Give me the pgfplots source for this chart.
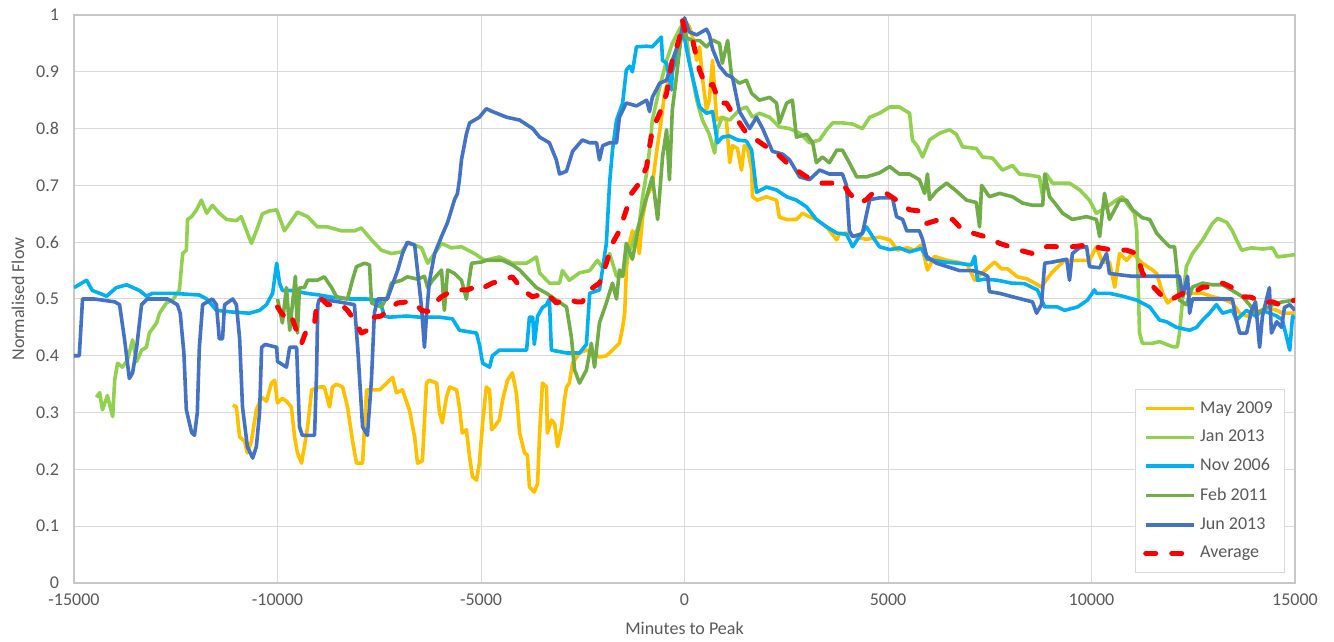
\documentclass[border=0pt]{standalone}
\usepackage{fontspec}
\setmainfont{Carlito}
\usepackage{pgfplots}
\pgfplotsset{compat=1.18}

\definecolor{cMay}{HTML}{FFC000}
\definecolor{cJan}{HTML}{92D050}
\definecolor{cNov}{HTML}{00B0F0}
\definecolor{cFeb}{HTML}{70AD47}
\definecolor{cJun}{HTML}{4472C4}
\definecolor{cAvg}{HTML}{FF0000}
\definecolor{txt}{HTML}{595959}

\begin{document}
\begin{tikzpicture}
\begin{axis}[
name=ax,
scale only axis,
width=610.5pt, height=284pt,
xmin=-15000, xmax=15000,
ymin=0, ymax=1,
xtick={-15000,-10000,-5000,0,5000,10000,15000},
ytick={0,0.1,0.2,0.3,0.4,0.5,0.6,0.7,0.8,0.9,1},
scaled x ticks=false,
/pgf/number format/1000 sep={},
/pgf/number format/assume math mode=true,
major tick length=0pt,
grid=major,
grid style={draw=black!15, line width=0.5pt},
axis line style={draw=black!22, line width=0.6pt},
tick label style={font=\fontsize{9}{10}\selectfont, text=txt},
xticklabel style={yshift=-2pt},
yticklabel style={xshift=-4pt},
xlabel={Minutes to Peak},
ylabel={Normalised Flow},
label style={font=\fontsize{9}{10}\selectfont, text=txt},
xlabel style={at={(axis description cs:0.5,-0.0792)}, anchor=center},
ylabel style={at={(axis description cs:-0.0459,0.5)}, anchor=center},
legend style={at={(axis description cs:1,0)}, anchor=south east,
  xshift=-5pt, yshift=5pt, draw=black!15, fill=white,
  font=\fontsize{9}{10}\selectfont, text=txt,
  cells={anchor=west}, row sep=3pt, inner xsep=4pt, inner ysep=4pt},
legend image code/.code={\draw[#1] (0pt,0pt) -- (24pt,0pt);},
every axis plot/.append style={line width=1.8pt, line join=round},
]

% May 2009
\addplot[cMay] coordinates {
(-11100,0.313)(-11010,0.31)(-10930,0.257)(-10810,0.25)(-10740,0.229)(-10640,0.25)(-10520,0.305)(-10390,0.327)(-10270,0.32)(-10150,0.352)(-10070,0.357)(-10000,0.317)(-9880,0.325)(-9780,0.32)(-9660,0.31)(-9580,0.257)(-9510,0.229)(-9410,0.211)(-9340,0.24)(-9260,0.275)(-9160,0.34)(-8970,0.345)(-8850,0.345)(-8720,0.31)(-8650,0.345)(-8550,0.35)(-8400,0.345)(-8280,0.31)(-8160,0.252)(-8060,0.211)(-7910,0.211)(-7810,0.34)(-7670,0.34)(-7490,0.34)(-7170,0.362)(-7080,0.335)(-6930,0.34)(-6760,0.305)(-6630,0.257)(-6560,0.211)(-6440,0.215)(-6340,0.352)(-6270,0.357)(-6090,0.352)(-6020,0.30)(-5950,0.282)(-5850,0.327)(-5770,0.345)(-5600,0.34)(-5530,0.31)(-5460,0.264)(-5360,0.27)(-5280,0.222)(-5210,0.187)(-5110,0.181)(-5040,0.211)(-4960,0.282)(-4870,0.345)(-4790,0.34)(-4740,0.27)(-4670,0.275)(-4550,0.287)(-4470,0.322)(-4350,0.357)(-4230,0.37)(-4130,0.334)(-4050,0.264)(-3930,0.229)(-3860,0.225)(-3810,0.169)(-3690,0.16)(-3610,0.175)(-3560,0.264)(-3490,0.352)(-3390,0.345)(-3370,0.264)(-3270,0.287)(-3190,0.28)(-3120,0.24)(-3020,0.275)(-2950,0.322)(-2900,0.345)(-2830,0.352)(-2750,0.387)(-2580,0.405)(-2410,0.41)(-2260,0.405)(-2090,0.398)(-1920,0.40)(-1770,0.41)(-1600,0.422)(-1520,0.45)(-1470,0.475)(-1425,0.556)(-1350,0.598)(-1280,0.62)(-1180,0.61)(-1110,0.58)(-1030,0.644)(-930,0.68)(-790,0.70)(-690,0.757)(-570,0.815)(-490,0.862)(-370,0.89)(-200,0.94)(-50,0.985)(0,0.99)(120,0.98)(200,0.96)(300,0.92)(370,0.944)(440,0.89)(540,0.833)(610,0.85)(690,0.92)(790,0.815)(910,0.82)(1030,0.815)(1110,0.74)(1180,0.77)(1300,0.765)(1400,0.727)(1470,0.77)(1550,0.765)(1650,0.727)(1670,0.68)(1790,0.674)(2010,0.68)(2260,0.674)(2330,0.644)(2510,0.64)(2750,0.64)(2900,0.651)(3070,0.645)(3240,0.64)(3490,0.627)(3740,0.604)(3810,0.615)(3980,0.616)(4230,0.609)(4470,0.605)(4790,0.609)(5040,0.604)(5090,0.60)(5230,0.586)(5480,0.59)(5650,0.586)(5820,0.595)(5970,0.551)(6140,0.575)(6460,0.568)(6710,0.565)(6950,0.56)(7130,0.533)(7300,0.545)(7620,0.565)(7790,0.553)(7940,0.553)(8180,0.539)(8430,0.535)(8600,0.528)(8770,0.521)(8850,0.53)(9020,0.546)(9160,0.556)(9340,0.568)(9580,0.568)(9830,0.568)(9950,0.568)(10120,0.592)(10270,0.565)(10440,0.565)(10570,0.521)(10690,0.58)(10860,0.568)(11010,0.58)(11250,0.563)(11500,0.551)(11600,0.545)(11750,0.51)(11870,0.493)(11990,0.50)(12160,0.51)(12410,0.51)(12730,0.51)(12970,0.504)(13220,0.50)(13460,0.493)(13640,0.475)(13810,0.47)(14030,0.475)(14300,0.485)(14550,0.48)(14690,0.475)(15000,0.475)
};
\addlegendentry{May 2009}

% Jan 2013
\addplot[cJan] coordinates {
(-14450,0.327)(-14370,0.335)(-14300,0.305)(-14180,0.33)(-14050,0.293)(-14000,0.357)(-13930,0.387)(-13810,0.38)(-13690,0.392)(-13560,0.428)(-13460,0.39)(-13340,0.41)(-13220,0.415)(-13150,0.44)(-12970,0.458)(-12900,0.475)(-12730,0.493)(-12580,0.498)(-12410,0.516)(-12330,0.58)(-12240,0.586)(-12210,0.64)(-12110,0.645)(-11990,0.657)(-11870,0.674)(-11740,0.651)(-11600,0.665)(-11430,0.651)(-11250,0.64)(-11010,0.638)(-10890,0.645)(-10760,0.62)(-10640,0.598)(-10520,0.62)(-10370,0.65)(-10200,0.655)(-10020,0.657)(-9830,0.62)(-9510,0.653)(-9260,0.645)(-9020,0.627)(-8770,0.627)(-8430,0.62)(-8110,0.62)(-7940,0.625)(-7690,0.604)(-7450,0.586)(-7200,0.58)(-6950,0.583)(-6810,0.598)(-6630,0.595)(-6460,0.59)(-6310,0.563)(-6140,0.58)(-5970,0.598)(-5730,0.59)(-5480,0.592)(-5160,0.58)(-4910,0.568)(-4550,0.574)(-4230,0.563)(-3880,0.563)(-3640,0.574)(-3560,0.546)(-3320,0.528)(-3070,0.528)(-3000,0.55)(-2830,0.533)(-2580,0.546)(-2330,0.55)(-2140,0.568)(-2010,0.555)(-1840,0.58)(-1670,0.54)(-1520,0.54)(-1430,0.57)(-1280,0.598)(-1110,0.633)(-1030,0.68)(-930,0.722)(-860,0.762)(-790,0.815)(-610,0.873)(-440,0.92)(-300,0.95)(-120,0.975)(0,0.99)(120,0.92)(300,0.85)(440,0.815)(610,0.79)(740,0.757)(810,0.80)(930,0.82)(1110,0.815)(1350,0.833)(1520,0.838)(1670,0.82)(1840,0.827)(2090,0.82)(2330,0.803)(2580,0.80)(2830,0.792)(3070,0.775)(3320,0.78)(3490,0.798)(3640,0.81)(3880,0.81)(4130,0.808)(4370,0.80)(4550,0.82)(4790,0.827)(5040,0.838)(5280,0.838)(5530,0.827)(5600,0.78)(5730,0.768)(5850,0.75)(6020,0.78)(6270,0.792)(6510,0.798)(6680,0.79)(6830,0.768)(7170,0.765)(7320,0.75)(7570,0.748)(7810,0.727)(8060,0.735)(8230,0.72)(8480,0.718)(8720,0.715)(8800,0.68)(8890,0.72)(9040,0.704)(9460,0.704)(9710,0.692)(9950,0.674)(10120,0.651)(10370,0.662)(10610,0.674)(10760,0.68)(10930,0.662)(11060,0.651)(11110,0.62)(11180,0.44)(11250,0.422)(11500,0.422)(11670,0.425)(11990,0.416)(12110,0.416)(12160,0.44)(12240,0.50)(12330,0.557)(12480,0.58)(12730,0.604)(12970,0.633)(13100,0.642)(13320,0.635)(13460,0.62)(13590,0.60)(13690,0.586)(13930,0.59)(14200,0.588)(14450,0.59)(14570,0.574)(15000,0.578)
};
\addlegendentry{Jan 2013}

% Nov 2006
\addplot[cNov] coordinates {
(-15000,0.52)(-14690,0.533)(-14550,0.515)(-14370,0.51)(-14200,0.505)(-13960,0.52)(-13710,0.525)(-13390,0.515)(-13220,0.505)(-13070,0.51)(-12580,0.51)(-11920,0.507)(-11740,0.50)(-11500,0.48)(-11100,0.477)(-10690,0.475)(-10440,0.48)(-10270,0.49)(-10120,0.51)(-10020,0.563)(-9950,0.528)(-9880,0.515)(-9630,0.515)(-9290,0.51)(-8970,0.507)(-8650,0.503)(-8230,0.50)(-7810,0.50)(-7490,0.497)(-7370,0.47)(-7250,0.468)(-6830,0.47)(-6510,0.468)(-6190,0.468)(-6020,0.468)(-5700,0.465)(-5530,0.445)(-5110,0.44)(-5040,0.42)(-4960,0.387)(-4790,0.38)(-4720,0.40)(-4550,0.41)(-4050,0.41)(-3880,0.41)(-3810,0.468)(-3730,0.468)(-3690,0.42)(-3610,0.47)(-3490,0.485)(-3390,0.49)(-3320,0.50)(-3270,0.41)(-2900,0.405)(-2580,0.405)(-2410,0.42)(-2330,0.51)(-2090,0.516)(-1920,0.598)(-1840,0.705)(-1770,0.762)(-1670,0.815)(-1520,0.845)(-1430,0.903)(-1350,0.91)(-1280,0.90)(-1180,0.944)(-930,0.945)(-790,0.944)(-570,0.961)(-540,0.92)(-440,0.915)(-320,0.868)(-300,0.90)(-120,0.944)(-50,0.975)(0,0.96)(50,0.94)(120,0.915)(200,0.89)(370,0.838)(540,0.827)(690,0.83)(810,0.775)(930,0.785)(1100,0.787)(1300,0.78)(1520,0.778)(1650,0.762)(1770,0.688)(2015,0.697)(2260,0.692)(2510,0.68)(2750,0.674)(3000,0.662)(3240,0.64)(3490,0.627)(3740,0.616)(3980,0.614)(4130,0.592)(4300,0.61)(4470,0.627)(4620,0.61)(4790,0.592)(5040,0.587)(5280,0.59)(5530,0.583)(5820,0.589)(5970,0.57)(6390,0.565)(6710,0.563)(7050,0.56)(7130,0.575)(7200,0.533)(7370,0.535)(7690,0.533)(8030,0.528)(8350,0.527)(8670,0.516)(8850,0.486)(9160,0.486)(9340,0.48)(9660,0.486)(9900,0.498)(10070,0.516)(10120,0.51)(10440,0.51)(10760,0.505)(11110,0.498)(11430,0.486)(11670,0.463)(11840,0.46)(12090,0.45)(12410,0.445)(12580,0.45)(12730,0.463)(12900,0.475)(13070,0.49)(13220,0.475)(13460,0.48)(13560,0.463)(13810,0.48)(14030,0.47)(14200,0.48)(14550,0.47)(14690,0.463)(14870,0.41)(14940,0.47)(15000,0.465)
};
\addlegendentry{Nov 2006}

% Feb 2011
\addplot[cFeb] coordinates {
(-10000,0.50)(-9880,0.458)(-9780,0.52)(-9700,0.445)(-9560,0.54)(-9510,0.44)(-9460,0.52)(-9340,0.52)(-9260,0.533)(-9020,0.533)(-8850,0.539)(-8670,0.52)(-8550,0.504)(-8280,0.50)(-8160,0.533)(-8060,0.557)(-7860,0.563)(-7740,0.56)(-7690,0.493)(-7450,0.486)(-7300,0.504)(-7200,0.528)(-6950,0.533)(-6810,0.539)(-6560,0.535)(-6390,0.54)(-6310,0.52)(-6190,0.533)(-5970,0.551)(-5900,0.48)(-5820,0.551)(-5650,0.545)(-5480,0.533)(-5360,0.50)(-5230,0.563)(-4990,0.565)(-4870,0.568)(-4470,0.568)(-4230,0.56)(-4050,0.551)(-3640,0.52)(-3390,0.51)(-3150,0.498)(-2900,0.486)(-2780,0.433)(-2700,0.375)(-2580,0.352)(-2410,0.375)(-2290,0.422)(-2210,0.38)(-2090,0.458)(-1920,0.493)(-1770,0.528)(-1670,0.50)(-1600,0.551)(-1520,0.54)(-1430,0.598)(-1280,0.57)(-1110,0.633)(-930,0.68)(-790,0.715)(-660,0.64)(-540,0.75)(-440,0.798)(-370,0.71)(-300,0.833)(-200,0.89)(-120,0.94)(-50,0.985)(50,0.96)(200,0.955)(370,0.955)(540,0.944)(690,0.956)(860,0.95)(930,0.915)(1060,0.955)(1160,0.89)(1350,0.88)(1520,0.885)(1650,0.862)(1840,0.85)(2090,0.855)(2260,0.845)(2330,0.81)(2510,0.845)(2650,0.85)(2750,0.785)(3000,0.79)(3150,0.775)(3240,0.74)(3390,0.75)(3560,0.74)(3740,0.762)(3880,0.762)(4050,0.74)(4230,0.715)(4470,0.715)(4790,0.722)(5040,0.733)(5280,0.72)(5530,0.72)(5770,0.71)(5900,0.686)(5970,0.72)(6020,0.675)(6190,0.69)(6440,0.704)(6680,0.69)(6930,0.674)(7170,0.67)(7250,0.627)(7300,0.70)(7490,0.68)(7740,0.686)(8060,0.68)(8300,0.669)(8550,0.665)(8800,0.665)(8850,0.72)(8970,0.68)(9140,0.665)(9290,0.651)(9530,0.64)(9880,0.645)(10120,0.64)(10200,0.61)(10320,0.686)(10440,0.64)(10690,0.674)(10860,0.674)(11010,0.657)(11250,0.643)(11430,0.64)(11600,0.616)(11750,0.604)(11920,0.592)(12040,0.592)(12090,0.557)(12160,0.498)(12330,0.49)(12480,0.521)(12730,0.528)(12970,0.525)(13220,0.525)(13460,0.515)(13710,0.504)(13880,0.49)(14030,0.475)(14200,0.48)(14450,0.49)(14690,0.495)(15000,0.498)
};
\addlegendentry{Feb 2011}

% Jun 2013
\addplot[cJun] coordinates {
(-15000,0.40)(-14870,0.40)(-14790,0.50)(-14500,0.50)(-14000,0.495)(-13880,0.49)(-13760,0.43)(-13640,0.36)(-13560,0.37)(-13460,0.415)(-13340,0.49)(-13200,0.50)(-12700,0.50)(-12460,0.49)(-12390,0.475)(-12300,0.405)(-12240,0.305)(-12110,0.265)(-12040,0.26)(-11970,0.30)(-11920,0.415)(-11840,0.49)(-11600,0.50)(-11500,0.49)(-11430,0.43)(-11350,0.43)(-11300,0.49)(-11100,0.50)(-11010,0.49)(-10930,0.43)(-10860,0.31)(-10740,0.24)(-10610,0.22)(-10520,0.24)(-10440,0.30)(-10390,0.415)(-10300,0.42)(-10020,0.415)(-10000,0.39)(-9780,0.38)(-9700,0.415)(-9530,0.415)(-9460,0.275)(-9390,0.26)(-9090,0.26)(-9040,0.37)(-9010,0.49)(-8970,0.50)(-8500,0.495)(-8110,0.49)(-8030,0.415)(-7910,0.275)(-7790,0.26)(-7690,0.36)(-7620,0.475)(-7540,0.50)(-7300,0.50)(-7050,0.55)(-6930,0.58)(-6810,0.60)(-6630,0.595)(-6560,0.55)(-6460,0.485)(-6390,0.415)(-6340,0.47)(-6270,0.53)(-6140,0.58)(-5970,0.61)(-5820,0.635)(-5650,0.675)(-5580,0.685)(-5530,0.71)(-5480,0.745)(-5360,0.79)(-5280,0.81)(-5040,0.82)(-4870,0.835)(-4720,0.83)(-4370,0.82)(-4050,0.815)(-3730,0.80)(-3560,0.785)(-3320,0.775)(-3150,0.745)(-3070,0.72)(-2900,0.725)(-2750,0.76)(-2510,0.78)(-2330,0.775)(-2160,0.775)(-2090,0.745)(-2010,0.77)(-1840,0.775)(-1670,0.775)(-1600,0.82)(-1430,0.845)(-1180,0.84)(-930,0.85)(-860,0.83)(-790,0.855)(-610,0.88)(-440,0.885)(-300,0.92)(-120,0.955)(0,0.995)(120,0.97)(300,0.965)(540,0.975)(610,0.965)(690,0.94)(860,0.91)(1030,0.895)(1180,0.89)(1350,0.83)(1600,0.80)(1770,0.82)(1920,0.80)(2160,0.76)(2410,0.755)(2580,0.745)(2830,0.715)(3070,0.71)(3320,0.727)(3560,0.72)(3880,0.72)(3980,0.70)(4050,0.62)(4130,0.61)(4370,0.615)(4550,0.675)(4790,0.678)(5110,0.678)(5210,0.645)(5360,0.64)(5460,0.62)(5770,0.62)(5850,0.605)(5950,0.575)(6190,0.563)(6760,0.55)(7080,0.55)(7320,0.545)(7450,0.54)(7490,0.513)(7740,0.51)(8160,0.502)(8550,0.495)(8650,0.475)(8770,0.49)(8850,0.563)(9040,0.565)(9390,0.57)(9460,0.533)(9530,0.58)(9700,0.59)(9880,0.592)(9950,0.557)(10200,0.555)(10370,0.58)(10440,0.545)(10760,0.542)(11000,0.54)(11180,0.54)(11500,0.54)(11990,0.54)(12160,0.54)(12240,0.505)(12360,0.54)(12410,0.475)(12480,0.50)(12830,0.50)(13150,0.50)(13320,0.50)(13460,0.50)(13560,0.463)(13640,0.44)(13810,0.44)(13930,0.48)(14030,0.495)(14130,0.415)(14200,0.47)(14370,0.52)(14420,0.44)(14550,0.46)(14670,0.45)(14740,0.485)(14870,0.49)(15000,0.48)
};
\addlegendentry{Jun 2013}

% Average
\addplot[cAvg, line width=2.5pt, line cap=round, dash pattern=on 5pt off 8pt] coordinates {
(-10000,0.486)(-9900,0.475)(-9750,0.463)(-9660,0.47)(-9510,0.44)(-9410,0.422)(-9260,0.45)(-9090,0.458)(-9020,0.498)(-8920,0.50)(-8770,0.49)(-8430,0.49)(-8280,0.48)(-8110,0.463)(-7940,0.44)(-7790,0.445)(-7620,0.468)(-7450,0.47)(-7300,0.48)(-7050,0.493)(-6810,0.495)(-6630,0.493)(-6460,0.48)(-6310,0.478)(-6140,0.493)(-5970,0.504)(-5820,0.51)(-5650,0.516)(-5480,0.516)(-5330,0.516)(-5160,0.521)(-5040,0.516)(-4720,0.528)(-4470,0.533)(-4230,0.539)(-3980,0.516)(-3740,0.504)(-3390,0.51)(-3150,0.493)(-2900,0.50)(-2650,0.495)(-2510,0.495)(-2330,0.516)(-2090,0.528)(-1920,0.563)(-1770,0.598)(-1600,0.62)(-1430,0.657)(-1300,0.686)(-1110,0.704)(-930,0.733)(-860,0.768)(-790,0.798)(-610,0.827)(-440,0.862)(-300,0.92)(-120,0.96)(-50,0.99)(50,0.96)(200,0.955)(370,0.903)(540,0.873)(690,0.878)(860,0.845)(1030,0.845)(1180,0.827)(1350,0.81)(1520,0.792)(1770,0.78)(2010,0.768)(2260,0.757)(2510,0.74)(2750,0.727)(3000,0.715)(3320,0.704)(3640,0.704)(3880,0.704)(4050,0.686)(4300,0.669)(4470,0.675)(4620,0.686)(4870,0.686)(4960,0.686)(5210,0.674)(5530,0.657)(5770,0.655)(5950,0.633)(6270,0.64)(6590,0.64)(6760,0.627)(7080,0.616)(7420,0.609)(7740,0.598)(7990,0.592)(8230,0.586)(8550,0.58)(8890,0.592)(9210,0.592)(9530,0.592)(9880,0.595)(10200,0.59)(10520,0.586)(10860,0.586)(11110,0.58)(11250,0.546)(11430,0.528)(11670,0.51)(11840,0.498)(11990,0.50)(12240,0.51)(12480,0.51)(12730,0.521)(12970,0.521)(13220,0.528)(13460,0.52)(13710,0.504)(13930,0.503)(14200,0.493)(14450,0.495)(14620,0.49)(15000,0.498)
};
\addlegendentry{Average}

\end{axis}
\pgfresetboundingbox
\path[use as bounding box] ([xshift=-37pt,yshift=-29pt]ax.south west) rectangle ([xshift=19.5pt,yshift=7.5pt]ax.north east);
\end{tikzpicture}
\end{document}
